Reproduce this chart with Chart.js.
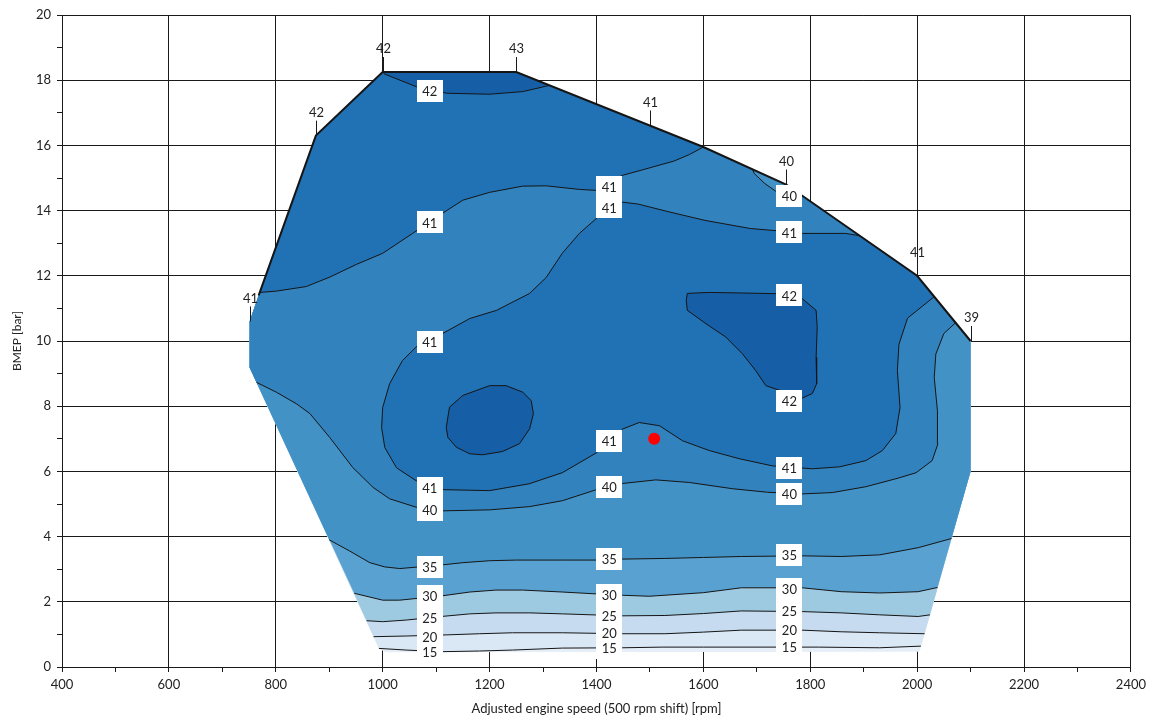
<!DOCTYPE html>
<html>
<head>
<meta charset="utf-8">
<script src="https://cdn.jsdelivr.net/npm/chart.js@4.4.1/dist/chart.umd.min.js"></script>
<style>
  html, body { margin: 0; padding: 0; background: #ffffff; }
  canvas { display: block; }
</style>
</head>
<body>
<canvas id="map" width="1151" height="717"></canvas>
<script>
// ---- Operating range outline (engine speed [rpm], BMEP [bar]), clockwise from the lower-left corner ----
const boundary = [
  [993, 0.57], [1005, 0.45], [2003, 0.47], [2005, 0.5], [2100, 6.0], [2100, 10.0],
  [2000, 12.0], [1755, 14.8], [1600, 15.95], [1250, 18.25], [1000, 18.25],
  [875, 16.3], [768, 11.4], [751, 10.6], [751, 9.19]
];

// ---- Iso-lines, each running from one edge of the range to another ----
const line15 = [[993,0.57],[1044,0.52],[1110,0.47],[1181,0.49],[1243,0.52],[1336,0.58],[1449,0.59],[1523,0.61],[1600,0.61],[1815,0.61],[1930,0.59],[2007,0.64]];
const line20 = [[983,0.93],[1044,0.95],[1110,0.98],[1181,1.02],[1243,1.05],[1336,1.05],[1449,1.02],[1528,1.02],[1600,1.07],[1671,1.13],[1785,1.13],[1858,1.08],[1930,1.05],[2014,1.02]];
const line25 = [[970,1.42],[1000,1.39],[1044,1.44],[1110,1.55],[1163,1.63],[1212,1.66],[1275,1.66],[1336,1.63],[1449,1.57],[1528,1.58],[1600,1.64],[1671,1.72],[1785,1.70],[1858,1.66],[1930,1.60],[2002,1.55],[2024,1.60]];
const line30 = [[947,2.26],[1000,2.05],[1032,2.05],[1110,2.18],[1163,2.30],[1212,2.36],[1262,2.36],[1336,2.30],[1402,2.24],[1449,2.20],[1499,2.17],[1600,2.28],[1671,2.43],[1785,2.43],[1858,2.31],[1930,2.27],[2002,2.31],[2038,2.44]];
const line35 = [[900,3.90],[938,3.56],[976,3.20],[1004,3.07],[1032,3.02],[1110,3.13],[1150,3.20],[1200,3.26],[1250,3.28],[1336,3.28],[1402,3.28],[1449,3.31],[1528,3.33],[1600,3.36],[1671,3.39],[1785,3.41],[1858,3.39],[1930,3.44],[2002,3.66],[2064,3.94]];
const line40 = [[764,8.73],[801,8.43],[839,8.07],[864,7.77],[901,7.04],[944,6.12],[982,5.51],[1013,5.16],[1063,4.90],[1112,4.79],[1200,4.82],[1275,4.92],[1336,5.10],[1400,5.44],[1449,5.63],[1511,5.74],[1574,5.66],[1654,5.47],[1720,5.36],[1785,5.31],[1841,5.35],[1904,5.53],[1966,5.80],[1998,5.96],[2028,6.33],[2039,6.85],[2038,7.86],[2032,8.88],[2035,9.60],[2050,10.23],[2072,10.56]];
const line40Corner = [[1692,15.27],[1695,15.14],[1715,14.83],[1735,14.60],[1752,14.50],[1775,14.57]];
const line41Upper = [[770,11.49],[801,11.53],[857,11.67],[901,11.96],[951,12.35],[1000,12.69],[1056,13.30],[1112,13.92],[1150,14.32],[1200,14.56],[1262,14.75],[1306,14.76],[1368,14.65],[1400,14.62],[1448,15.08],[1484,15.24],[1545,15.52],[1574,15.72],[1600,15.95]];
const line41Loop = [[1892,13.23],[1866,13.30],[1786,13.30],[1761,13.35],[1688,13.45],[1603,13.70],[1536,13.96],[1478,14.20],[1448,14.26],[1402,13.79],[1368,13.30],[1336,12.69],[1306,11.95],[1275,11.46],[1213,10.94],[1163,10.69],[1112,10.23],[1069,9.92],[1037,9.40],[1013,8.69],[1000,7.96],[998,7.34],[1004,6.73],[1026,6.11],[1063,5.71],[1112,5.44],[1200,5.41],[1274,5.62],[1336,5.96],[1400,6.57],[1449,7.30],[1480,7.50],[1518,7.40],[1561,6.94],[1611,6.64],[1667,6.39],[1729,6.17],[1804,6.08],[1855,6.14],[1904,6.33],[1935,6.64],[1960,7.16],[1968,7.96],[1963,9.10],[1966,9.90],[1982,10.70],[2032,11.36]];
const line42Top = [[1002,18.2],[1063,17.80],[1120,17.60],[1200,17.57],[1262,17.65],[1312,17.84]];
const line42Island = [[1119,7.35],[1125,7.97],[1150,8.33],[1200,8.63],[1231,8.63],[1262,8.43],[1278,8.17],[1282,7.77],[1275,7.31],[1256,6.85],[1224,6.61],[1187,6.51],[1163,6.54],[1138,6.74],[1122,7.04],[1119,7.35]];
const line42Right = [[1570,11.46],[1611,11.49],[1680,11.47],[1740,11.45],[1785,11.30],[1811,10.94],[1813,10.42],[1811,9.50],[1812,8.69],[1804,8.39],[1785,8.25],[1753,8.43],[1717,8.63],[1698,9.09],[1673,9.61],[1642,10.12],[1605,10.53],[1570,10.94],[1568,11.24],[1570,11.46]];

// ---- Level colours, lowest band first ----
const levelColors = {
  below15: '#e6eef8', l15: '#dae8f5', l20: '#c6dbef', l25: '#9ecae1',
  l30: '#58a1d1', l35: '#4292c6', l40: '#3282be', l41: '#2171b5', l42: '#165fa6'
};

// ---- In-map level labels [text, rpm, bar] ----
const contourLabels = [
  ['42',1088,17.66], ['41',1088,13.64], ['41',1424,14.72], ['41',1424,14.10],
  ['40',1761,14.44], ['41',1761,13.33], ['42',1761,11.40], ['41',1088,9.98],
  ['42',1761,8.17], ['41',1424,6.94], ['41',1761,6.11], ['41',1088,5.50],
  ['40',1088,4.82], ['40',1424,5.53], ['40',1761,5.31],
  ['35',1088,3.07], ['35',1424,3.32], ['35',1761,3.44],
  ['30',1088,2.18], ['30',1424,2.21], ['30',1761,2.40],
  ['25',1088,1.51], ['25',1424,1.57], ['25',1761,1.72],
  ['20',1088,0.92], ['20',1424,1.04], ['20',1761,1.14],
  ['15',1088,0.46], ['15',1424,0.58], ['15',1761,0.61]
];

// ---- Values at the edge of the range [text, rpm, bar] ----
const edgeLabels = [
  ['41',751,10.6], ['42',875,16.3], ['42',1000,18.25], ['43',1250,18.25],
  ['41',1500,16.61], ['40',1755,14.8], ['41',2000,12.0], ['39',2100,10.0]
];

// ---- Marked operating point ----
const operatingPoint = [1508, 7.0];

// ---- Axis ranges ----
const xRange = [400, 2400];
const yRange = [0, 20];

const toXY = arr => arr.map(([x, y]) => ({ x, y }));
const rev = arr => arr.slice().reverse();

function area(points, color, order) {
  return { data: toXY(points), backgroundColor: color, borderWidth: 0, borderColor: 'rgba(0,0,0,0)',
           pointRadius: 0, fill: 'shape', tension: 0, order };
}
function isoLine(points, order, width) {
  return { data: toXY(points), borderColor: '#151515', borderWidth: width || 1, backgroundColor: 'rgba(0,0,0,0)',
           pointRadius: 0, fill: false, tension: 0, order };
}

// Filled areas, painted from the lowest level upwards
const upperEdge = boundary.slice(4);
const datasets = [
  area(boundary, levelColors.below15, 100),
  area(line15.concat(upperEdge), levelColors.l15, 99),
  area(line20.concat(upperEdge), levelColors.l20, 98),
  area(line25.concat(upperEdge), levelColors.l25, 97),
  area(line30.concat(upperEdge), levelColors.l30, 96),
  area(line35.concat(upperEdge), levelColors.l35, 95),
  area(line40.concat([boundary[6]], rev(line40Corner), boundary.slice(8)), levelColors.l40, 94),
  area(line41Upper.concat(boundary.slice(9, 12)), levelColors.l41, 93),
  area(line41Loop.concat([boundary[6]]), levelColors.l41, 92),
  area(line42Top.concat(boundary.slice(9, 11)), levelColors.l42, 91),
  area(line42Island, levelColors.l42, 90),
  area(line42Right, levelColors.l42, 89),
  // iso-lines
  isoLine(line15, 10), isoLine(line20, 10), isoLine(line25, 10), isoLine(line30, 10),
  isoLine(line35, 10), isoLine(line40, 10), isoLine(line40Corner, 10),
  isoLine(line41Upper, 10), isoLine(line41Loop, 10),
  isoLine(line42Top, 10), isoLine(line42Island, 10), isoLine(line42Right, 10),
  // upper limit of the range
  isoLine(rev(boundary.slice(5, 13)), 5, 2),
  // operating point
  { data: toXY([operatingPoint]), showLine: false, pointRadius: 6, pointBackgroundColor: '#ff0000',
    pointBorderWidth: 0, borderColor: '#ff0000', order: 0 }
];

const FONT = 'Lato';
const INK = '#222222';
const GRID = '#1a1a1a';

const labelPlugin = {
  id: 'levelLabels',
  afterDraw(chart) {
    const { ctx, scales: { x, y } } = chart;
    ctx.save();
    ctx.font = '13px ' + FONT;
    ctx.textAlign = 'center';
    ctx.textBaseline = 'middle';
    const boxes = contourLabels.map(([t, vx, vy]) => ({
      t, px: x.getPixelForValue(vx), py: y.getPixelForValue(vy), w: ctx.measureText(t).width + 11
    }));
    ctx.fillStyle = '#ffffff';
    boxes.forEach(b => ctx.fillRect(Math.round(b.px - b.w / 2), Math.round(b.py - 11), Math.round(b.w), 22));
    ctx.fillStyle = INK;
    boxes.forEach(b => ctx.fillText(b.t, b.px, b.py + 1));

    ctx.strokeStyle = GRID;
    ctx.lineWidth = 1;
    edgeLabels.forEach(([t, vx, vy]) => {
      const px = Math.round(x.getPixelForValue(vx)) + 0.5;
      const py = y.getPixelForValue(vy);
      ctx.beginPath();
      ctx.moveTo(px, py);
      ctx.lineTo(px, py - 15);
      ctx.stroke();
      ctx.fillText(t, px, py - 23);
    });
    ctx.restore();
  }
};

new Chart(document.getElementById('map'), {
  type: 'line',
  data: { datasets },
  options: {
    responsive: false,
    animation: false,
    devicePixelRatio: 1,
    events: [],
    layout: { padding: { top: 15, right: 18, left: 0, bottom: 0 } },
    plugins: { legend: { display: false }, tooltip: { enabled: false } },
    scales: {
      x: {
        type: 'linear', min: xRange[0], max: xRange[1], z: 1,
        ticks: {
          stepSize: 100, autoSkip: false, maxRotation: 0, padding: 5,
          color: INK, font: { family: FONT, size: 13 },
          callback: v => (v % 200 === 0 ? String(v) : '')
        },
        grid: {
          color: c => (c.tick && c.tick.value % 200 === 0 ? GRID : 'rgba(0,0,0,0)'),
          tickColor: GRID, tickLength: 5, lineWidth: 1
        },
        border: { color: GRID, width: 1 },
        title: { display: true, text: 'Adjusted engine speed (500 rpm shift) [rpm]', color: INK,
                 font: { family: FONT, size: 13 }, padding: { top: 2, bottom: 0 } },
        afterFit: s => { s.height = 50; }
      },
      y: {
        type: 'linear', min: yRange[0], max: yRange[1], z: 1,
        ticks: {
          stepSize: 1, autoSkip: false, padding: 6,
          color: INK, font: { family: FONT, size: 13 },
          callback: v => (v % 2 === 0 ? String(v) : '')
        },
        grid: {
          color: c => (c.tick && c.tick.value % 2 === 0 ? GRID : 'rgba(0,0,0,0)'),
          tickColor: GRID, tickLength: 5, lineWidth: 1
        },
        border: { color: GRID, width: 1 },
        title: { display: true, text: 'BMEP [bar]', color: INK,
                 font: { family: FONT, size: 12 }, padding: { top: 10, bottom: 0 } },
        afterFit: s => { s.width = 62; }
      }
    }
  },
  plugins: [labelPlugin]
});
</script>
</body>
</html>
